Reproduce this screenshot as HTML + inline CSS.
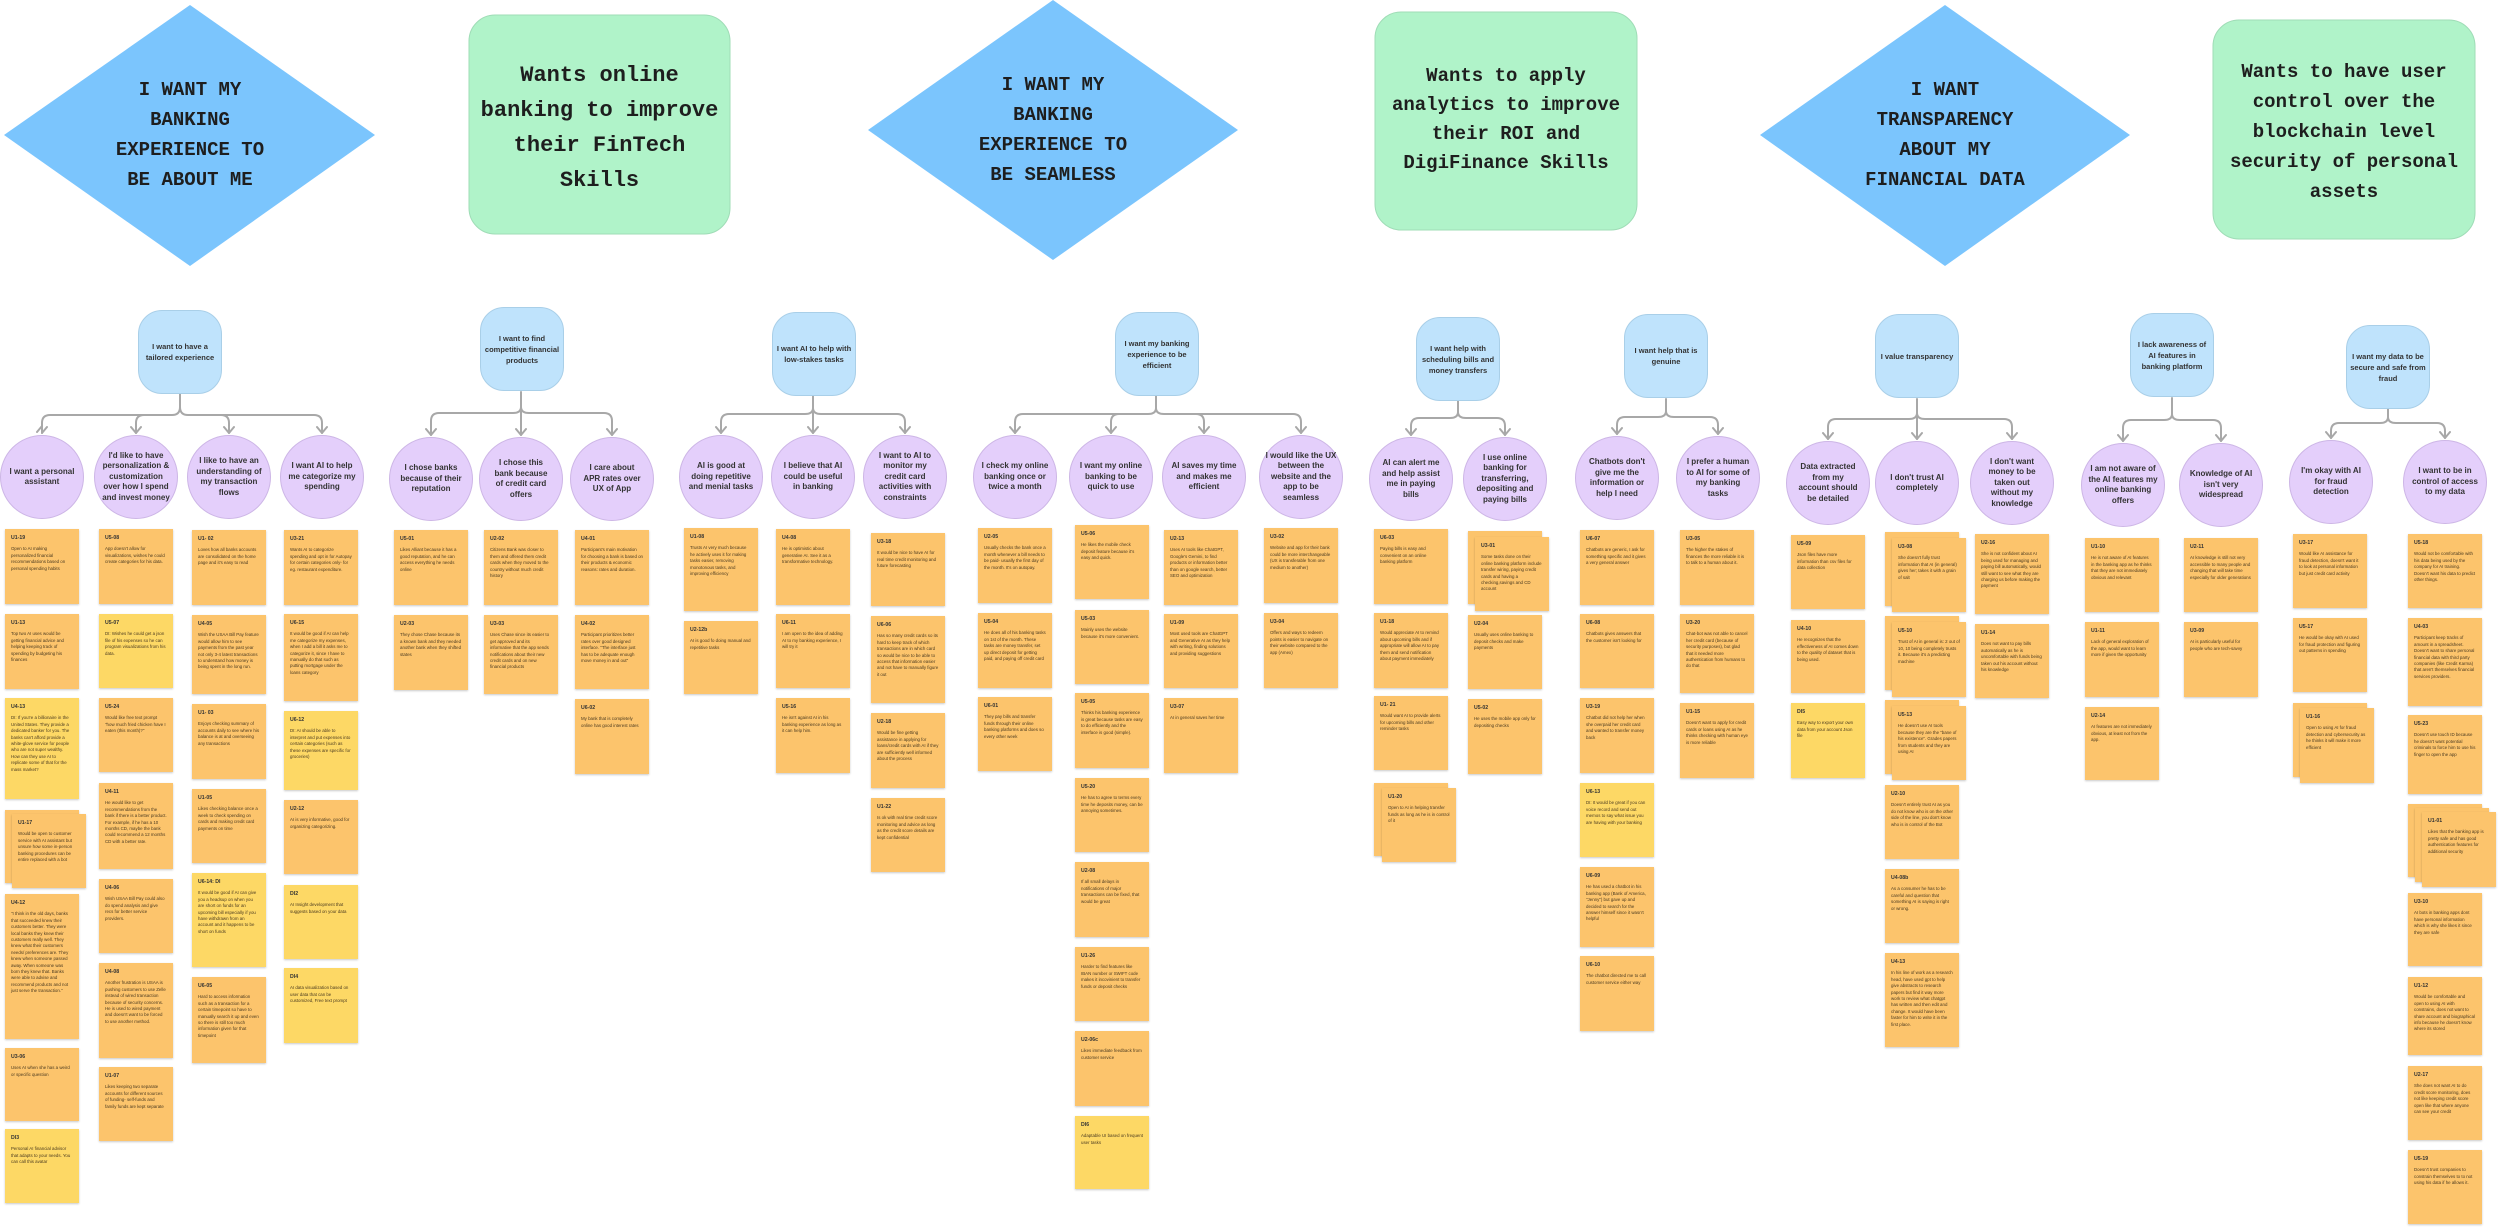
<!DOCTYPE html>
<html><head><meta charset="utf-8"><style>
body{margin:0;width:2500px;height:1230px;background:#fff;position:relative;overflow:hidden;font-family:"Liberation Sans",sans-serif}
.a{position:absolute}
.dt{position:absolute;font-family:"Liberation Mono",monospace;font-weight:bold;color:#1e1e1e;text-align:center;white-space:nowrap}
.p{position:absolute;width:84px;height:84px;background:#bfe3fc;border:1px solid #a9cfe8;border-radius:24px;box-sizing:border-box;display:flex;align-items:center;justify-content:center;text-align:center;font-weight:bold;font-size:7.5px;line-height:11px;color:#333}
.c{position:absolute;width:84px;height:84px;background:#e4cffb;border:1px solid #cdb6e6;border-radius:50%;box-sizing:border-box;display:flex;align-items:center;justify-content:center;text-align:center;font-weight:bold;font-size:8px;line-height:10.5px;color:#333}
.s{position:absolute;width:74px;height:74px;background:#fcc46c;box-shadow:0 1px 2px rgba(0,0,0,.22);box-sizing:border-box;padding:6px 6px;font-size:4.4px;line-height:6.4px;color:#4a3a20;overflow:hidden}
.s b{display:block;font-size:5.2px;margin-bottom:5px;color:#333}
.y{background:#fdd865}
</style></head><body>
<svg class="a" style="left:0;top:0" width="2500" height="1230">
<g fill="#7bc5fd">
<polygon points="190,5 375,135 190,266 4,135"/>
<polygon points="1053,0 1238,130 1053,260 868,130"/>
<polygon points="1945,5 2130,135 1945,266 1760,135"/>
</g>
<g fill="#b0f3c9" stroke="#9fdcb6" stroke-width="1">
<rect x="469" y="15" width="261" height="219" rx="26"/>
<rect x="1375" y="12" width="262" height="218" rx="26"/>
<rect x="2213" y="20" width="262" height="219" rx="26"/>
</g>
<g fill="none" stroke="#a8a8a8" stroke-width="2" stroke-linecap="round" stroke-linejoin="round">
<path d="M180,394V407Q180,415 172,415H50Q42,415 42,423V433M180,407Q180,415 188,415H314Q322,415 322,423V433M144,415Q136,415 136,423V433M221,415Q229,415 229,423V433"/>
<path d="M42,426L37,432M42,433L47,427M136,433L131,427M136,433L141,427M229,433L224,427M229,433L234,427M322,433L317,427M322,433L327,427"/>
<path d="M521,392V435M521,407Q521,413 513,413H439Q431,413 431,421V435M521,407Q521,413 529,413H604Q612,413 612,421V435"/>
<path d="M431,435L426,429M431,435L436,429M521,435L516,429M521,435L526,429M612,435L607,429M612,435L617,429"/>
<path d="M813,396V433M813,408Q813,414 805,414H729Q721,414 721,422V433M813,408Q813,414 821,414H897Q905,414 905,422V433"/>
<path d="M721,433L716,427M721,433L726,427M813,433L808,427M813,433L818,427M905,433L900,427M905,433L910,427"/>
<path d="M1156,396V408Q1156,414 1148,414H1023Q1015,414 1015,422V433M1156,408Q1156,414 1164,414H1293Q1301,414 1301,422V433M1119,414Q1111,414 1111,422V433M1196,414Q1204,414 1204,422V433"/>
<path d="M1015,433L1010,427M1015,433L1020,427M1111,433L1106,427M1111,433L1116,427M1204,433L1199,427M1204,433L1209,427M1301,433L1296,427M1301,433L1306,427"/>
<path d="M1458,401V412Q1458,418 1450,418H1419Q1411,418 1411,426V435M1458,412Q1458,418 1466,418H1497Q1505,418 1505,426V435"/>
<path d="M1411,435L1406,429M1411,435L1416,429M1505,435L1500,429M1505,435L1510,429"/>
<path d="M1666,399V411Q1666,417 1658,417H1625Q1617,417 1617,425V434M1666,411Q1666,417 1674,417H1710Q1718,417 1718,425V434"/>
<path d="M1617,434L1612,428M1617,434L1622,428M1718,434L1713,428M1718,434L1723,428"/>
<path d="M1917,399V439M1917,413Q1917,419 1909,419H1836Q1828,419 1828,427V439M1917,413Q1917,419 1925,419H2004Q2012,419 2012,427V439"/>
<path d="M1828,439L1823,433M1828,439L1833,433M1917,439L1912,433M1917,439L1922,433M2012,439L2007,433M2012,439L2017,433"/>
<path d="M2172,398V414Q2172,420 2164,420H2131Q2123,420 2123,428V441M2172,414Q2172,420 2180,420H2213Q2221,420 2221,428V441"/>
<path d="M2123,441L2118,435M2123,441L2128,435M2221,441L2216,435M2221,441L2226,435"/>
<path d="M2388,409V417Q2388,423 2380,423H2339Q2331,423 2331,431V438M2388,417Q2388,423 2396,423H2437Q2445,423 2445,431V438"/>
<path d="M2331,438L2326,432M2331,438L2336,432M2445,438L2440,432M2445,438L2450,432"/>
</g>
</svg>

<div class="dt" style="left:90px;top:75px;width:200px;font-size:19px;line-height:30px">I WANT MY<br>BANKING<br>EXPERIENCE TO<br>BE ABOUT ME</div>
<div class="dt" style="left:953px;top:70px;width:200px;font-size:19px;line-height:30px">I WANT MY<br>BANKING<br>EXPERIENCE TO<br>BE SEAMLESS</div>
<div class="dt" style="left:1845px;top:75px;width:200px;font-size:19px;line-height:30px">I WANT<br>TRANSPARENCY<br>ABOUT MY<br>FINANCIAL DATA</div>
<div class="dt" style="left:469px;top:58px;width:261px;font-size:22px;line-height:35px">Wants online<br>banking to improve<br>their FinTech<br>Skills</div>
<div class="dt" style="left:1375px;top:62px;width:262px;font-size:19px;line-height:29px">Wants to apply<br>analytics to improve<br>their ROI and<br>DigiFinance Skills</div>
<div class="dt" style="left:2213px;top:57px;width:262px;font-size:19px;line-height:30px">Wants to have user<br>control over the<br>blockchain level<br>security of personal<br>assets</div>

<div class="p" style="left:138px;top:310px">I want to have a<br>tailored experience</div>
<div class="p" style="left:480px;top:307px">I want to find<br>competitive financial<br>products</div>
<div class="p" style="left:772px;top:312px">I want AI to help with<br>low-stakes tasks</div>
<div class="p" style="left:1115px;top:312px">I want my banking<br>experience to be<br>efficient</div>
<div class="p" style="left:1416px;top:317px">I want help with<br>scheduling bills and<br>money transfers</div>
<div class="p" style="left:1624px;top:314px">I want help that is<br>genuine</div>
<div class="p" style="left:1875px;top:314px">I value transparency</div>
<div class="p" style="left:2130px;top:313px">I lack awareness of<br>AI features in<br>banking platform</div>
<div class="p" style="left:2346px;top:325px">I want my data to be<br>secure and safe from<br>fraud</div>

<div class="c" style="left:0px;top:435px">I want a personal<br>assistant</div>
<div class="c" style="left:94px;top:435px">I'd like to have<br>personalization &amp;<br>customization<br>over how I spend<br>and invest money</div>
<div class="c" style="left:187px;top:435px">I like to have an<br>understanding of<br>my transaction<br>flows</div>
<div class="c" style="left:280px;top:435px">I want AI to help<br>me categorize my<br>spending</div>
<div class="c" style="left:389px;top:437px">I chose banks<br>because of their<br>reputation</div>
<div class="c" style="left:479px;top:437px">I chose this<br>bank because<br>of credit card<br>offers</div>
<div class="c" style="left:570px;top:437px">I care about<br>APR rates over<br>UX of App</div>
<div class="c" style="left:679px;top:435px">AI is good at<br>doing repetitive<br>and menial tasks</div>
<div class="c" style="left:771px;top:435px">I believe that AI<br>could be useful<br>in banking</div>
<div class="c" style="left:863px;top:435px">I want to AI to<br>monitor my<br>credit card<br>activities with<br>constraints</div>
<div class="c" style="left:973px;top:435px">I check my online<br>banking once or<br>twice a month</div>
<div class="c" style="left:1069px;top:435px">I want my online<br>banking to be<br>quick to use</div>
<div class="c" style="left:1162px;top:435px">AI saves my time<br>and makes me<br>efficient</div>
<div class="c" style="left:1259px;top:435px">I would like the UX<br>between the<br>website and the<br>app to be<br>seamless</div>
<div class="c" style="left:1369px;top:437px">AI can alert me<br>and help assist<br>me in paying<br>bills</div>
<div class="c" style="left:1463px;top:437px">I use online<br>banking for<br>transferring,<br>depositing and<br>paying bills</div>
<div class="c" style="left:1575px;top:436px">Chatbots don't<br>give me the<br>information or<br>help I need</div>
<div class="c" style="left:1676px;top:436px">I prefer a human<br>to AI for some of<br>my banking<br>tasks</div>
<div class="c" style="left:1786px;top:441px">Data extracted<br>from my<br>account should<br>be detailed</div>
<div class="c" style="left:1875px;top:441px">I don't trust AI<br>completely</div>
<div class="c" style="left:1970px;top:441px">I don't want<br>money to be<br>taken out<br>without my<br>knowledge</div>
<div class="c" style="left:2081px;top:443px">I am not aware of<br>the AI features my<br>online banking<br>offers</div>
<div class="c" style="left:2179px;top:443px">Knowledge of AI<br>isn't very<br>widespread</div>
<div class="c" style="left:2289px;top:440px">I'm okay with AI<br>for fraud<br>detection</div>
<div class="c" style="left:2403px;top:440px">I want to be in<br>control of access<br>to my data</div>

<!-- Col A -->
<div class="s" style="left:5px;top:529px;height:75px"><b>U1-19</b>Open to AI making personalized financial recommendations based on personal spending habits</div>
<div class="s" style="left:5px;top:614px;height:75px"><b>U1-13</b>Top two AI uses would be getting financial advice and helping keeping track of spending by budgeting his finances</div>
<div class="s y" style="left:5px;top:698px;height:101px"><b>U4-13</b>DI: If you're a billionaire in the United States. They provide a dedicated banker for you. The banks can't afford provide a white-glove service for people who are not super wealthy. How can they use AI to replicate some of that for the mass market?</div>
<div class="s" style="left:5px;top:810px;height:73px"></div>
<div class="s" style="left:12px;top:814px;height:74px"><b>U1-17</b>Would be open to customer service with AI assistant but unsure how some in-person banking procedures can be entire replaced with a bot</div>
<div class="s" style="left:5px;top:894px;height:145px"><b>U4-12</b>"I think in the old days, banks that succeeded knew their customers better. They were local banks they knew their customers really well. They knew what their customers needs/ preferences are. They knew when someone passed away. When someone was born they knew that. Banks were able to advise and recommend products and not just serve the transaction."</div>
<div class="s" style="left:5px;top:1048px;height:73px"><b>U3-06</b>Uses AI when she has a weird or specific question</div>
<div class="s y" style="left:5px;top:1129px;height:74px"><b>DI3</b>Personal AI financial advisor that adapts to your needs. You can call this avatar</div>
<!-- Col B -->
<div class="s" style="left:99px;top:529px;height:75px"><b>U5-08</b>App doesn't allow for visualizations, wishes he could create categories for his data.</div>
<div class="s y" style="left:99px;top:614px;height:74px"><b>U5-07</b>DI: Wishes he could get a json file of his expenses so he can program visualizations from his data.</div>
<div class="s" style="left:99px;top:698px;height:74px"><b>U5-24</b>Would like free text prompt "how much fried chicken have I eaten (this month)?"</div>
<div class="s" style="left:99px;top:783px;height:86px"><b>U4-11</b>He would like to get recommendations from the bank if there is a better product. For example, if he has a 10 months CD, maybe the bank could recommend a 12 months CD with a better rate.</div>
<div class="s" style="left:99px;top:879px;height:74px"><b>U4-06</b>Wish USAA Bill Pay could also do spend analysis and give recs for better service providers.</div>
<div class="s" style="left:99px;top:963px;height:95px"><b>U4-08</b>Another frustration is USAA is pushing customers to use Zelle instead of wired transaction because of security concerns. He is used to wired payment and doesn't want to be forced to use another method.</div>
<div class="s" style="left:99px;top:1067px;height:74px"><b>U1-07</b>Likes keeping two separate accounts for different sources of funding- self-funds and family funds are kept separate</div>
<!-- Col C -->
<div class="s" style="left:192px;top:530px;height:75px"><b>U1- 02</b>Loves how all banks accounts are consolidated on the home page and it's easy to read</div>
<div class="s" style="left:192px;top:615px;height:79px"><b>U4-05</b>Wish the USAA Bill Pay feature would allow him to see payments from the past year not only 3-4 latest transactions to understand how money is being spent in the long run.</div>
<div class="s" style="left:192px;top:704px;height:75px"><b>U1- 03</b>Enjoys checking summary of accounts daily to see where his balance is at and overseeing any transactions</div>
<div class="s" style="left:192px;top:789px;height:74px"><b>U1-05</b>Likes checking balance once a week to check spending on cards and making credit card payments on time</div>
<div class="s y" style="left:192px;top:873px;height:94px"><b>U6-14: DI</b>It would be good if AI can give you a headsup on when you are short on funds for an upcoming bill especially if you have withdrawn from an account and it happens to be short on funds</div>
<div class="s" style="left:192px;top:977px;height:86px"><b>U6-05</b>Hard to access information such as a transaction for a certain timepoint so have to manually search it up and even so there is still too much information given for that timepoint</div>
<!-- Col D -->
<div class="s" style="left:284px;top:530px;height:75px"><b>U3-21</b>Wants AI to categorize spending and opt in for Autopay for certain categories only- for eg. restaurant expenditure.</div>
<div class="s" style="left:284px;top:614px;height:87px"><b>U6-15</b>It would be good if AI can help me categorize my expenses, when I add a bill it asks me to categorize it, since I have to manually do that such as putting mortgage under the loans category</div>
<div class="s y" style="left:284px;top:711px;height:79px"><b>U6-12</b>DI: AI should be able to interpret and put expenses into certain categories (such as these expenses are specific for groceries)</div>
<div class="s" style="left:284px;top:800px;height:74px"><b>U2-12</b>AI is very informative, good for organizing categorizing.</div>
<div class="s y" style="left:284px;top:885px;height:74px"><b>DI2</b>AI Insight development that suggests based on your data</div>
<div class="s y" style="left:284px;top:968px;height:75px"><b>DI4</b>AI data visualization based on user data that can be customized, Free text prompt</div>
<!-- Col E F G -->
<div class="s" style="left:394px;top:530px;height:75px"><b>U5-01</b>Likes Alliant because it has a good reputation, and he can access everything he needs online</div>
<div class="s" style="left:394px;top:615px;height:75px"><b>U2-03</b>They chose Chase because its a known bank and they needed another bank when they shifted states</div>
<div class="s" style="left:484px;top:530px;height:75px"><b>U2-02</b>Citizens Bank was closer to them and offered them credit cards when they moved to the country without much credit history</div>
<div class="s" style="left:484px;top:615px;height:79px"><b>U3-03</b>Uses Chase since its easier to get approved and its informative that the app sends notifications about their new credit cards and on new financial products</div>
<div class="s" style="left:575px;top:530px;height:75px"><b>U4-01</b>Participant's main motivation for choosing a bank is based on their products &amp; economic reasons: rates and duration.</div>
<div class="s" style="left:575px;top:615px;height:74px"><b>U4-02</b>Participant prioritizes better rates over good designed interface. "The interface just has to be adequate enough move money in and out"</div>
<div class="s" style="left:575px;top:699px;height:75px"><b>U6-02</b>My bank that is completely online has good interest rates</div>
<!-- Col H I J -->
<div class="s" style="left:684px;top:528px;height:83px"><b>U1-08</b>Trusts AI very much because he actively uses it for making tasks easier, removing monotonous tasks, and improving efficiency</div>
<div class="s" style="left:684px;top:621px;height:73px"><b>U2-12b</b>AI is good fo doing manual and repetitive tasks</div>
<div class="s" style="left:776px;top:529px;height:76px"><b>U4-08</b>He is optimistic about generative AI. See it as a transformative technology.</div>
<div class="s" style="left:776px;top:614px;height:74px"><b>U6-11</b>I am open to the idea of adding AI to my banking experience, I will try it</div>
<div class="s" style="left:776px;top:698px;height:75px"><b>U5-16</b>He isn't against AI in his banking experience as long as it can help him.</div>
<div class="s" style="left:871px;top:533px;height:73px"><b>U3-18</b>It would be nice to have AI for real time credit monitoring and future forecasting</div>
<div class="s" style="left:871px;top:616px;height:87px"><b>U6-06</b>Has so many credit cards so its hard to keep track of which transactions are in which card so would be nice to be able to access that information easier and not have to manually figure it out</div>
<div class="s" style="left:871px;top:713px;height:75px"><b>U2-18</b>Would be fine getting assistance in applying for loans/credit cards with AI if they are sufficiently well informed about the process</div>
<div class="s" style="left:871px;top:798px;height:74px"><b>U1-22</b>Is ok with real time credit score monitoring and advice as long as the credit score details are kept confidential</div>
<!-- Col K L M -->
<div class="s" style="left:978px;top:528px;height:75px"><b>U2-05</b>Usually checks the bank once a month whenever a bill needs to be paid- usually the first day of the month. It's on autopay.</div>
<div class="s" style="left:978px;top:613px;height:75px"><b>U5-04</b>He does all of his banking tasks on 1st of the month. These tasks are money transfer, set up direct deposit for getting paid, and paying off credit card</div>
<div class="s" style="left:978px;top:697px;height:74px"><b>U6-01</b>They pay bills and transfer funds through their online banking platforms and does so every other week</div>
<div class="s" style="left:1075px;top:525px;height:74px"><b>U5-06</b>He likes the mobile check deposit feature because it's easy and quick.</div>
<div class="s" style="left:1075px;top:610px;height:74px"><b>U5-03</b>Mainly uses the website because it's more convenient.</div>
<div class="s" style="left:1075px;top:693px;height:75px"><b>U5-05</b>Thinks his banking experience is great because tasks are easy to do efficiently and the interface is good (simple).</div>
<div class="s" style="left:1075px;top:778px;height:74px"><b>U5-20</b>He has to agree to terms every time he deposits money, can be annoying sometimes.</div>
<div class="s" style="left:1075px;top:862px;height:75px"><b>U2-08</b>If all small delays in notifications of major transactions can be fixed, that would be great</div>
<div class="s" style="left:1075px;top:947px;height:74px"><b>U1-26</b>Harder to find features like IBAN number or SWIFT code makes it incovinient to transfer funds or deposit checks</div>
<div class="s" style="left:1075px;top:1031px;height:75px"><b>U2-06c</b>Likes immediate feedback from customer service</div>
<div class="s y" style="left:1075px;top:1116px;height:73px"><b>DI6</b>Adaptable UI based on frequent user tasks</div>
<div class="s" style="left:1164px;top:530px;height:75px"><b>U2-13</b>Uses AI tools like ChatGPT, Google's Gemini, to find products or information better than on google search, better SEO and optimization</div>
<div class="s" style="left:1164px;top:614px;height:74px"><b>U1-09</b>Most used tools are ChatGPT and Generative AI as they help with writing, finding solutions and providing suggestions</div>
<div class="s" style="left:1164px;top:698px;height:75px"><b>U3-07</b>AI in general saves her time</div>
<!-- Col N O P -->
<div class="s" style="left:1264px;top:528px;height:75px"><b>U3-02</b>Website and app for their bank could be more interchangeable (UX is transferable from one medium to another)</div>
<div class="s" style="left:1264px;top:613px;height:75px"><b>U3-04</b>Offers and ways to redeem points is easier to navigate on their website compared to the app (Amex)</div>
<div class="s" style="left:1374px;top:529px;height:75px"><b>U6-03</b>Paying bills is easy and convenient on an online banking platform</div>
<div class="s" style="left:1374px;top:613px;height:75px"><b>U1-18</b>Would appreciate AI to remind about upcoming bills and if appropriate will allow AI to pay them and send notification about payment immediately</div>
<div class="s" style="left:1374px;top:696px;height:74px"><b>U1- 21</b>Would want AI to provide alerts for upcoming bills and other reminder tasks</div>
<div class="s" style="left:1374px;top:783px;height:73px"></div>
<div class="s" style="left:1382px;top:788px;height:74px"><b>U1-20</b>Open to AI in helping transfer funds as long as he is in control of it</div>
<div class="s" style="left:1468px;top:531px;height:73px"></div>
<div class="s" style="left:1475px;top:537px;height:74px"><b>U3-01</b>Some tasks done on their online banking platform include transfer wiring, paying credit cards and having a checking,savings and CD account</div>
<div class="s" style="left:1468px;top:615px;height:74px"><b>U2-04</b>Usually uses online banking to deposit checks and make payments</div>
<div class="s" style="left:1468px;top:699px;height:75px"><b>U5-02</b>He uses the mobile app only for depositing checks</div>
<!-- Col Q R S -->
<div class="s" style="left:1580px;top:530px;height:75px"><b>U6-07</b>Chatbots are generic, I ask for something specific and it gives a very general answer</div>
<div class="s" style="left:1580px;top:614px;height:74px"><b>U6-08</b>Chatbots gives answers that the customer isn't looking for</div>
<div class="s" style="left:1580px;top:698px;height:75px"><b>U3-19</b>Chatbot did not help her when she overpaid her credit card and wanted to transfer money back</div>
<div class="s y" style="left:1580px;top:783px;height:74px"><b>U6-13</b>DI: It would be great if you can voice record and send out memos to say what issue you are having with your banking</div>
<div class="s" style="left:1580px;top:867px;height:80px"><b>U6-09</b>He has used a chatbot in his banking app (Bank of America, "Jenny") but gave up and decided to search for the answer himself since it wasn't helpful</div>
<div class="s" style="left:1580px;top:956px;height:75px"><b>U6-10</b>The chatbot directed me to call customer service either way</div>
<div class="s" style="left:1680px;top:530px;height:75px"><b>U3-05</b>The higher the stakes of finances the more reliable it is to talk to a human about it.</div>
<div class="s" style="left:1680px;top:614px;height:79px"><b>U3-20</b>Chat-bot was not able to cancel her credit card (because of security purposes), but glad that it needed more authentication from humans to do that</div>
<div class="s" style="left:1680px;top:703px;height:75px"><b>U1-15</b>Doesn't want to apply for credit cards or loans using AI as he thinks checking with human eye is more reliable</div>
<div class="s" style="left:1791px;top:535px;height:74px"><b>U5-09</b>Json files have more information than csv files for data collection</div>
<div class="s" style="left:1791px;top:620px;height:73px"><b>U4-10</b>He recognizes that the effectiveness of AI comes down to the quality of dataset that is being used.</div>
<div class="s y" style="left:1791px;top:703px;height:75px"><b>DI5</b>Easy way to export your own data from your account Json file</div>
<!-- Col T -->
<div class="s" style="left:1885px;top:532px;height:74px"></div>
<div class="s" style="left:1892px;top:538px;height:74px"><b>U3-08</b>She doesn't fully trust information that AI (in general) gives her; takes it with a grain of salt</div>
<div class="s" style="left:1885px;top:616px;height:74px"></div>
<div class="s" style="left:1892px;top:622px;height:75px"><b>U5-10</b>Trust of AI in general is: 2 out of 10, 10 being completely trusts it. Because it's a predicting machine</div>
<div class="s" style="left:1885px;top:700px;height:74px"></div>
<div class="s" style="left:1892px;top:706px;height:74px"><b>U5-13</b>He doesn't use AI tools because they are the "bane of his existence". Grades papers from students and they are using AI</div>
<div class="s" style="left:1885px;top:785px;height:74px"><b>U2-10</b>Doesn't entirely trust AI as you do not know who is on the other side of the line, you don't know who is in control of the Bot</div>
<div class="s" style="left:1885px;top:869px;height:74px"><b>U4-08b</b>As a consumer he has to be careful and question that something AI is saying is right or wrong.</div>
<div class="s" style="left:1885px;top:953px;height:94px"><b>U4-13</b>In his line of work as a research head, have used gpt to help give abstracts to research papers but find it way more work to review what chatgpt has written and then edit and change. It would have been faster for him to write it in the first place.</div>
<!-- Col U V W -->
<div class="s" style="left:1975px;top:534px;height:80px"><b>U2-16</b>She is not confident about AI being used for managing and paying bill automatically, would still want to see what they are charging us before making the payment</div>
<div class="s" style="left:1975px;top:624px;height:74px"><b>U1-14</b>Does not want to pay bills automatically as he is uncomfortable with funds being taken out his account without his knowledge</div>
<div class="s" style="left:2085px;top:538px;height:74px"><b>U1-10</b>He is not aware of AI features in the banking app as he thinks that they are not immediately obvious and relevant</div>
<div class="s" style="left:2085px;top:622px;height:75px"><b>U1-11</b>Lack of general exploration of the app, would want to learn more if given the opportunity</div>
<div class="s" style="left:2085px;top:707px;height:73px"><b>U2-14</b>AI features are not immediately obvious, at least not from the app.</div>
<div class="s" style="left:2184px;top:538px;height:74px"><b>U2-11</b>AI knowledge is still not very accessible to many people and changing that will take time especially for older generations</div>
<div class="s" style="left:2184px;top:622px;height:75px"><b>U3-09</b>AI is particularly useful for people who are tech-savvy</div>
<!-- Col X -->
<div class="s" style="left:2293px;top:534px;height:74px"><b>U3-17</b>Would like AI assistance for fraud detection, doesn't want it to look at personal information but just credit card activity</div>
<div class="s" style="left:2293px;top:618px;height:74px"><b>U5-17</b>He would be okay with AI used for fraud protection and figuring out patterns in spending</div>
<div class="s" style="left:2293px;top:703px;height:74px"></div>
<div class="s" style="left:2300px;top:708px;height:75px"><b>U1-16</b>Open to using AI for fraud detection and cybersecurity as he thinks it will make it more efficient</div>
<!-- Col Y -->
<div class="s" style="left:2408px;top:534px;height:74px"><b>U5-18</b>Would not be comfortable with his data being used by the company for AI training. Doesn't want his data to predict other things.</div>
<div class="s" style="left:2408px;top:618px;height:88px"><b>U4-03</b>Participant keep tracks of amount in a spreadsheet. Doesn't want to share personal financial data with third party companies (like Credit Karma) that aren't themselves financial services providers.</div>
<div class="s" style="left:2408px;top:715px;height:79px"><b>U5-23</b>Doesn't use touch ID because he doesn't want potential criminals to force him to use his finger to open the app</div>
<div class="s" style="left:2408px;top:804px;height:73px"></div>
<div class="s" style="left:2415px;top:808px;height:74px"></div>
<div class="s" style="left:2422px;top:812px;height:75px"><b>U1-01</b>Likes that the banking app is pretty safe and has good authentication features for additional security</div>
<div class="s" style="left:2408px;top:893px;height:73px"><b>U3-10</b>AI bots in banking apps dont have personal information which is why she likes it since they are safe</div>
<div class="s" style="left:2408px;top:977px;height:78px"><b>U1-12</b>Would be comfortable and open to using AI with constrains, does not want to share account and biographical info because he doesn't know where its stored</div>
<div class="s" style="left:2408px;top:1066px;height:74px"><b>U2-17</b>She does not want AI to do credit score monitoring, does not like keeping credit score open like that where anyone can see your credit</div>
<div class="s" style="left:2408px;top:1150px;height:74px"><b>U5-19</b>Doesn't trust companies to constrain themselves to to not using his data if he allows it.</div>
</body></html>
